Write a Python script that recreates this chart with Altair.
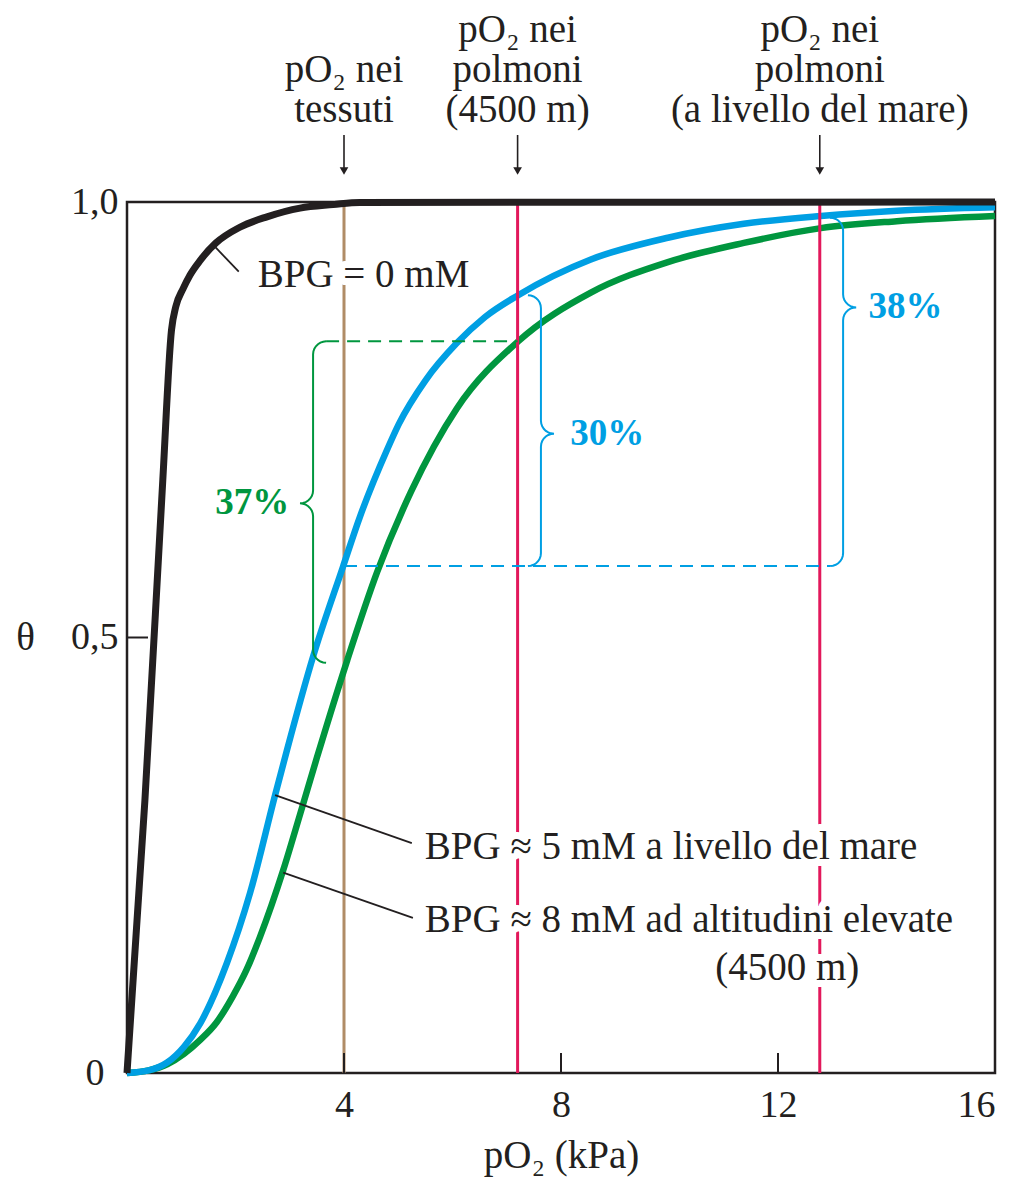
import altair as alt
import numpy as np
import pandas as pd

# ---------------- data ----------------
black_x = [0, 0.33, 0.66, 0.82, 0.90, 1.03, 1.16, 1.35, 1.64, 2.08, 2.58, 3.19, 3.80, 4.29, 16]
black_y = [0, 0.313, 0.681, 0.853, 0.880, 0.900, 0.916, 0.933, 0.953, 0.971, 0.983, 0.993,
           0.997, 0.9995, 1.0]

blue_x = [0, 0.40, 0.74, 1.05, 1.35, 1.84, 2.27, 2.73, 2.95, 3.43, 3.98, 4.29, 4.79, 5.01,
          5.50, 6.08, 6.60, 7.21, 8.55, 9.97, 11.37, 12.79, 14.19, 16]
blue_y = [0, 0.003, 0.012, 0.030, 0.057, 0.126, 0.207, 0.319, 0.371, 0.478, 0.581, 0.638,
          0.715, 0.745, 0.795, 0.838, 0.868, 0.893, 0.934, 0.959, 0.975, 0.984, 0.990, 0.994]

green_x = [0, 0.40, 0.74, 1.05, 1.35, 1.65, 1.95, 2.20, 2.45, 2.88, 3.19, 3.50, 4.06, 4.61,
           5.24, 6.08, 7.21, 8.55, 9.97, 11.37, 12.79, 14.19, 16]
green_y = [0, 0.003, 0.010, 0.022, 0.038, 0.058, 0.088, 0.118, 0.156, 0.233, 0.297, 0.362,
           0.474, 0.575, 0.668, 0.763, 0.840, 0.896, 0.931, 0.953, 0.970, 0.978, 0.984]

tissue_x = 4.0
lung_alt_x = 7.2
lung_sea_x = 12.77

x_ticks = [4, 8, 12, 16]
y_ticks = [0, 0.5, 1.0]

# brackets: x of brace, top, middle, bottom (theta), direction
green_brace = (3.43, 0.840, 0.654, 0.471, -1)
blue_brace_30 = (7.63, 0.893, 0.734, 0.582, 1)
blue_brace_38 = (13.2, 0.982, 0.879, 0.582, 1)

pct_labels = ["37%", "30%", "38%"]

# ---------------- styling ----------------
W, H = 868, 871
FONT = "Liberation Serif"
FS = 39
AFS = 38
INK = "#231F20"
BLUE = "#009FE3"
GREEN = "#00963F"
RED = "#E2185B"
BROWN = "#B08C66"

xs = alt.Scale(domain=[0, 16], nice=False, zero=True)
ys = alt.Scale(domain=[0, 1], nice=False)

xaxis = alt.Axis(values=x_ticks, format="d", labelPadding=13, titlePadding=12,
                 tickSize=0, ticks=False, domain=False, grid=False)
yaxis = alt.Axis(values=y_ticks, tickSize=0, ticks=False, domain=False, grid=False,
                 labelPadding={"condition": {"test": "datum.value == 0", "value": 23}, "value": 9},
                 labelExpr="datum.value == 0 ? '0' : replace(format(datum.value, '.1f'), '.', ',')",
                 titleAngle=0, titleX=-102, titleY=H / 2, titleAlign="center",
                 titleBaseline="middle")

XT = "pO₂ (kPa)"
YT = "θ"


def X(f):
    return alt.X(f"{f}:Q", scale=xs, axis=xaxis, title=XT)


def Y(f):
    return alt.Y(f"{f}:Q", scale=ys, axis=yaxis, title=YT)


KX = W / 16.0
KY = H / 1.0


def brace(name, x0, yt, ym, yb, s, r=13):
    pts = []
    X0, Yt, Ym, Yb = x0 * KX, yt * KY, ym * KY, yb * KY

    def arc(cx, cy, a0, a1):
        for a in np.linspace(a0, a1, 8):
            t = np.radians(a)
            pts.append(((cx + s * r * np.cos(t)) / KX, (cy + r * np.sin(t)) / KY))

    arc(X0 - s * r, Yt - r, 90, 0)
    arc(X0 + s * r, Ym + r, 180, 270)
    arc(X0 + s * r, Ym - r, 90, 180)
    arc(X0 - s * r, Yb + r, 0, -90)
    return pd.DataFrame({"x": [p[0] for p in pts], "y": [p[1] for p in pts],
                         "o": list(range(len(pts))), "b": name})


def curve(xv, yv):
    return pd.DataFrame({"x": xv, "y": yv})


# ---------------- layers ----------------
brown_df = pd.DataFrame({"x": [tissue_x], "y": [0.0], "y2": [1.0]})
red_df = pd.DataFrame({"x": [lung_alt_x, lung_sea_x], "y": [0.0, 0.0], "y2": [1.0, 1.0]})

brown = alt.Chart(brown_df).mark_rule(color=BROWN, strokeWidth=3).encode(
    x=X("x"), y=Y("y"), y2="y2:Q")
reds = alt.Chart(red_df).mark_rule(color=RED, strokeWidth=3).encode(
    x=X("x"), y=Y("y"), y2="y2:Q")

green_line = alt.Chart(curve(green_x, green_y)).mark_line(
    color=GREEN, strokeWidth=6.5, interpolate="monotone").encode(x=X("x"), y=Y("y"))
blue_line = alt.Chart(curve(blue_x, blue_y)).mark_line(
    color=BLUE, strokeWidth=6.5, interpolate="monotone").encode(x=X("x"), y=Y("y"))
black_line = alt.Chart(curve(black_x, black_y)).mark_line(
    color=INK, strokeWidth=7, interpolate="monotone", strokeCap="butt").encode(
    x=X("x"), y=Y("y"))

r_k = 13 / KX
dash_green_df = pd.DataFrame({"x": [green_brace[0] + r_k], "x2": [lung_alt_x],
                              "y": [green_brace[1]]})
dash_blue_df = pd.DataFrame({"x": [tissue_x], "x2": [blue_brace_38[0] - r_k],
                             "y": [blue_brace_30[3]]})
dash_green = alt.Chart(dash_green_df).mark_rule(
    color=GREEN, strokeWidth=2, strokeDash=[13, 8]).encode(x=X("x"), x2="x2:Q", y=Y("y"))
dash_blue = alt.Chart(dash_blue_df).mark_rule(
    color=BLUE, strokeWidth=2, strokeDash=[13, 8]).encode(x=X("x"), x2="x2:Q", y=Y("y"))

gb = alt.Chart(brace("g", *green_brace)).mark_line(color=GREEN, strokeWidth=2).encode(
    x=X("x"), y=Y("y"), order="o:Q")
bb = alt.Chart(pd.concat([brace("b1", *blue_brace_30), brace("b2", *blue_brace_38)])).mark_line(
    color=BLUE, strokeWidth=2).encode(x=X("x"), y=Y("y"), order="o:Q", detail="b:N")

leader_df = pd.DataFrame({
    "x": [1.585, 2.73, 2.88], "y": [0.951, 0.319, 0.230],
    "x2": [2.06, 5.25, 5.27], "y2": [0.920, 0.264, 0.178]})
leaders = alt.Chart(leader_df).mark_rule(color=INK, strokeWidth=1.8).encode(
    x=X("x"), y=Y("y"), x2="x2:Q", y2="y2:Q")

lab_left_df = pd.DataFrame({
    "x": [2.41, 5.49, 5.49], "y": [0.916, 0.259, 0.176],
    "t": ["BPG = 0 mM", "BPG ≈ 5 mM a livello del mare", "BPG ≈ 8 mM ad altitudini elevate"]})
lab_center_df = pd.DataFrame({"x": [12.17], "y": [0.121], "t": ["(4500 m)"]})


def txt(df, align, halo=False, **kw):
    props = dict(align=align, baseline="middle", font=FONT, fontSize=FS)
    if halo:
        props.update(stroke="white", strokeWidth=14, strokeJoin="round", fill="white")
    else:
        props.update(color=INK)
    props.update(kw)
    return alt.Chart(df).mark_text(**props).encode(x=X("x"), y=Y("y"), text="t:N")


halo_l = txt(lab_left_df, "left", halo=True)
halo_c = txt(lab_center_df, "center", halo=True)
text_l = txt(lab_left_df, "left")
text_c = txt(lab_center_df, "center")

pct_green_df = pd.DataFrame({"x": [2.99], "y": [green_brace[2]], "t": [pct_labels[0]]})
pct_blue_df = pd.DataFrame({"x": [8.17, 13.67], "y": [blue_brace_30[2], blue_brace_38[2]],
                            "t": pct_labels[1:]})
pct_g = alt.Chart(pct_green_df).mark_text(
    align="right", baseline="middle", font=FONT, fontSize=37, fontWeight="bold",
    color=GREEN).encode(x=X("x"), y=Y("y"), text="t:N")
pct_b = alt.Chart(pct_blue_df).mark_text(
    align="left", baseline="middle", font=FONT, fontSize=37, fontWeight="bold",
    color=BLUE).encode(x=X("x"), y=Y("y"), text="t:N")

# inward ticks
xt_df = pd.DataFrame({"x": x_ticks[:-1]})
xticks = alt.Chart(xt_df).mark_rule(color=INK, strokeWidth=2).encode(
    x=X("x"), y=alt.value(H), y2=alt.value(H - 20))
yt_df = pd.DataFrame({"y": [0.5]})
yticks = alt.Chart(yt_df).mark_rule(color=INK, strokeWidth=2).encode(
    y=Y("y"), x=alt.value(0), x2=alt.value(21))

# top annotations with arrows
arrow_df = pd.DataFrame({"x": [tissue_x, lung_alt_x, lung_sea_x]})
arrow_stem = alt.Chart(arrow_df).mark_rule(color=INK, strokeWidth=1.6).encode(
    x=X("x"), y=alt.value(-67), y2=alt.value(-32))
arrow_head = alt.Chart(arrow_df).mark_point(
    shape="triangle-down", filled=True, color=INK, size=75, opacity=1).encode(
    x=X("x"), y=alt.value(-31))

top_df = pd.DataFrame({
    "x": [tissue_x, tissue_x, lung_alt_x, lung_alt_x, lung_alt_x,
          lung_sea_x, lung_sea_x, lung_sea_x],
    "line": [1, 2, 0, 1, 2, 0, 1, 2],
    "t": ["pO₂ nei", "tessuti", "pO₂ nei", "polmoni", "(4500 m)",
          "pO₂ nei", "polmoni", "(a livello del mare)"]})
top_layers = []
for ln, ypix in zip([0, 1, 2], [-172, -132, -92]):
    top_layers.append(
        alt.Chart(top_df[top_df["line"] == ln]).mark_text(
            align="center", baseline="middle", font=FONT, fontSize=FS, color=INK).encode(
            x=X("x"), y=alt.value(ypix), text="t:N"))

chart = alt.layer(
    brown, green_line, blue_line, reds, dash_green, dash_blue, gb, bb, black_line,
    leaders, halo_l, halo_c, text_l, text_c, pct_g, pct_b, xticks, yticks,
    arrow_stem, arrow_head, *top_layers
).properties(
    width=W, height=H,
    autosize=alt.AutoSizeParams(type="none"),
    padding={"left": 119, "top": 194, "right": 28, "bottom": 108},
).configure_view(
    stroke=INK, strokeWidth=2.5
).configure_axis(
    labelFont=FONT, labelFontSize=AFS, labelColor=INK,
    titleFont=FONT, titleFontSize=FS, titleColor=INK, titleFontWeight="normal",
)

chart.save("out.html", embed_options={"renderer": "svg", "actions": False})
